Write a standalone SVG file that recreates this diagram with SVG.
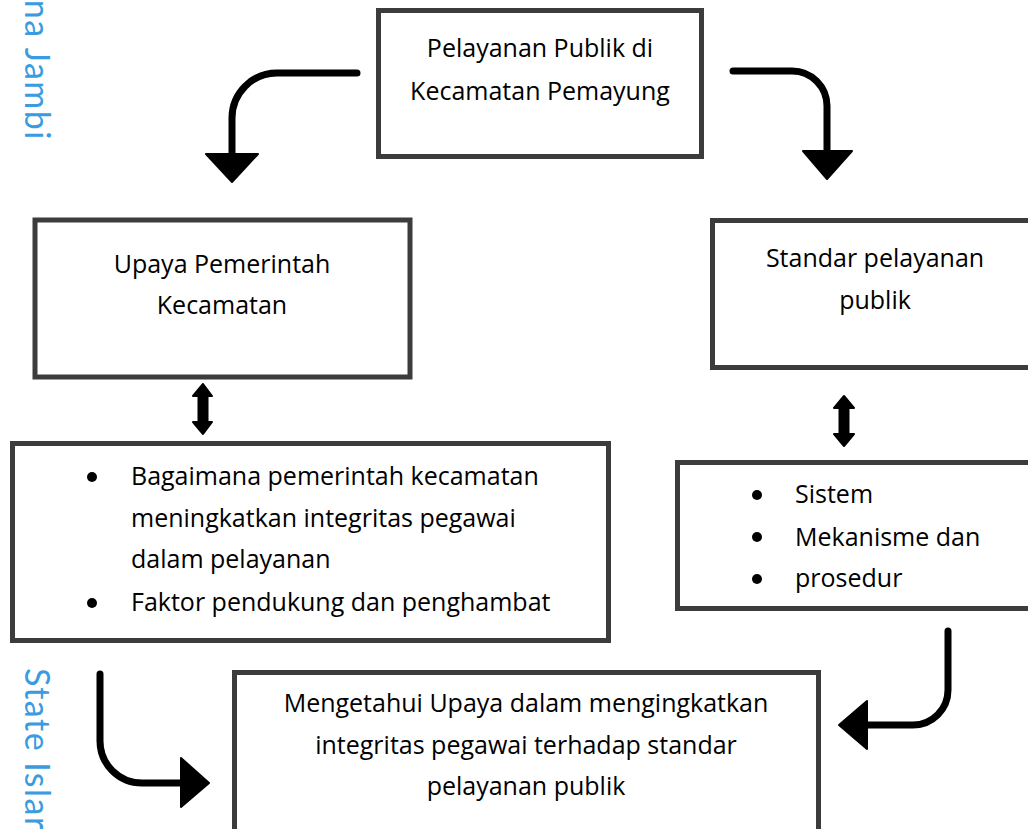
<svg xmlns="http://www.w3.org/2000/svg" width="1028" height="829" viewBox="0 0 1028 829">
<style>
.box{fill:#fff;stroke:#3c3c3c;stroke-width:5}
.t{font-family:"Open Sans","Liberation Sans",sans-serif;font-size:25px;fill:#000}
.c{text-anchor:middle}
.wm{font-family:Lato,"Open Sans",sans-serif;font-weight:400;font-size:34px;fill:#3a9be0;letter-spacing:1.5px}
.ln{fill:none;stroke:#000;stroke-width:7;stroke-linecap:round}
.hd{fill:#000;stroke:#000;stroke-width:2;stroke-linejoin:round}
</style>
<rect width="1028" height="829" fill="#fff"/>
<g id="watermark">
<text class="wm" transform="translate(25,141) rotate(90)" text-anchor="end">na Jambi</text>
<text class="wm" transform="translate(25,668) rotate(90)">State Islar</text>
</g>
<g id="node-pelayanan">
<rect class="box" x="378.5" y="10.5" width="323" height="146"/>
<text class="t c" x="540" y="57">Pelayanan Publik di</text>
<text class="t c" x="540" y="100">Kecamatan Pemayung</text>
</g>
<g id="node-upaya">
<rect class="box" x="35" y="220" width="375" height="157"/>
<text class="t c" x="222" y="273">Upaya Pemerintah</text>
<text class="t c" x="222" y="314">Kecamatan</text>
</g>
<g id="node-standar">
<rect class="box" x="712.5" y="220.5" width="330" height="147"/>
<text class="t c" x="875" y="267">Standar pelayanan</text>
<text class="t c" x="875" y="309">publik</text>
</g>
<g id="node-bagaimana">
<rect class="box" x="12.5" y="443.5" width="596" height="197"/>
<circle cx="92" cy="477" r="5"/>
<text class="t" x="131" y="485">Bagaimana pemerintah kecamatan</text>
<text class="t" x="131" y="527">meningkatkan integritas pegawai</text>
<text class="t" x="131" y="568">dalam pelayanan</text>
<circle cx="92" cy="603" r="5"/>
<text class="t" x="131" y="611">Faktor pendukung dan penghambat</text>
</g>
<g id="node-sistem">
<rect class="box" x="677.5" y="462.5" width="360" height="146"/>
<circle cx="757" cy="495" r="5"/>
<text class="t" x="795" y="503">Sistem</text>
<circle cx="757" cy="537" r="5"/>
<text class="t" x="795" y="546">Mekanisme dan</text>
<circle cx="757" cy="579" r="5"/>
<text class="t" x="795" y="587">prosedur</text>
</g>
<g id="node-mengetahui">
<rect class="box" x="234.5" y="672.5" width="584" height="170"/>
<text class="t c" x="526" y="712">Mengetahui Upaya dalam mengingkatkan</text>
<text class="t c" x="526" y="754">integritas pegawai terhadap standar</text>
<text class="t c" x="526" y="795">pelayanan publik</text>
</g>
<g id="connectors">
<path class="ln" d="M357 73 H277 A45 45 0 0 0 232 118 V155"/>
<polygon class="hd" points="206,154 258,154 232,182"/>
<path class="ln" d="M733 71 H792 A35 35 0 0 1 827 106 V152"/>
<polygon class="hd" points="803,151 852,151 827,179"/>
<polygon class="hd" points="203,384 212,396 207.5,396 207.5,422 212,422 203,434 193,422 198.5,422 198.5,396 193,396"/>
<polygon class="hd" points="844,396 854,408 848.5,408 848.5,434 854,434 844,446 834,434 839.5,434 839.5,408 834,408"/>
<path class="ln" d="M100 674 V741 A42 42 0 0 0 142 783 H182"/>
<polygon class="hd" points="181,758 181,807 209,783"/>
<path class="ln" d="M948 631 V690 A35 35 0 0 1 913 725 H868"/>
<polygon class="hd" points="867,701 867,749 839,725"/>
</g>
</svg>
